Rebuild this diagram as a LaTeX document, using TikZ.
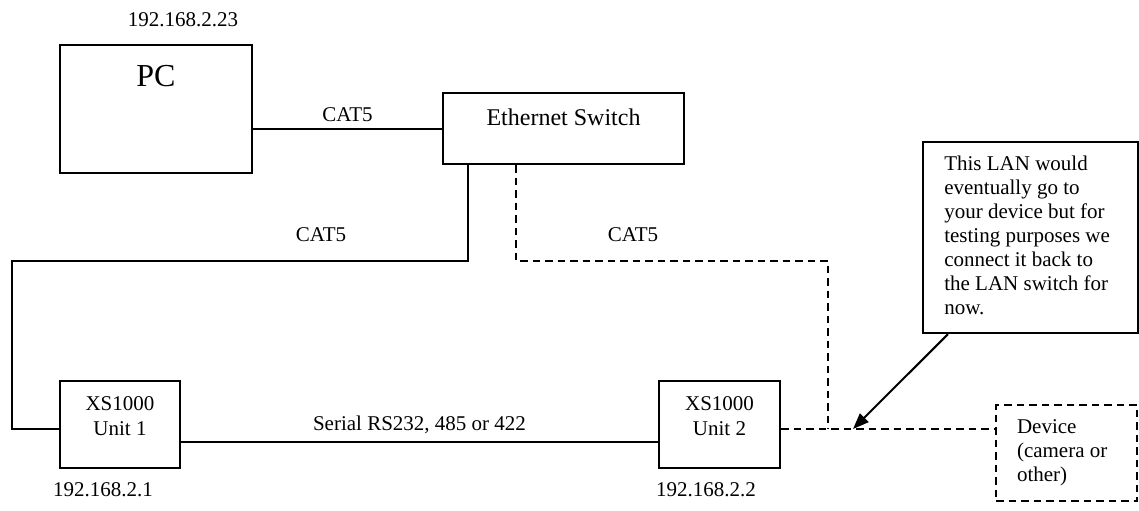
\documentclass[tikz,border=0pt]{standalone}
\usepackage{fontspec}
\setmainfont{Liberation Serif}
\usetikzlibrary{positioning,arrows.meta}

\begin{document}
\begin{tikzpicture}[x=0.5pt,y=-0.5pt,
    every node/.style={font=\fontsize{10.5}{12.5}\selectfont, inner sep=0pt},
    box/.style={draw, line width=1.1pt},
    dbox/.style={draw, line width=1pt, dash pattern=on 3.75pt off 2.5pt},
    wire/.style={line width=1pt},
    dwire/.style={line width=1pt, dash pattern=on 3.75pt off 2.5pt}]
  \useasboundingbox (0,0) rectangle (1139,510);
  % boxes
  \node[box, minimum width=96pt, minimum height=64pt] (pc) at (156,109) {};
  \node[font=\fontsize{16}{19}\selectfont, below=10.5pt of pc.north] (pctxt) {PC};
  \node (pcip) at (183,20) {192.168.2.23};
  \node[box, minimum width=120.5pt, minimum height=35.5pt] (sw) at (563.5,128.5) {};
  \node[font=\fontsize{12}{14}\selectfont, below=8.4pt of sw.north] (swtxt) {Ethernet Switch};
  \node[box, minimum width=60pt, minimum height=43.5pt] (u1) at (120,424.5) {};
  \node[align=center, below=8pt of u1.north] (u1txt) {XS1000\\Unit 1};
  \node (u1ip) at (103,490) {192.168.2.1};
  \node[box, minimum width=60.5pt, minimum height=43.5pt] (u2) at (719.5,424.5) {};
  \node[align=center, below=8pt of u2.north] (u2txt) {XS1000\\Unit 2};
  \node (u2ip) at (706,490) {192.168.2.2};
  \node[dbox, minimum width=70.5pt, minimum height=48pt, text width=49.5pt,
        inner xsep=10.5pt, align=flush left, font=\fontsize{10.5}{12}\selectfont] (dev)
        at (1066.5,453) {Device\\(camera or\\other)};
  \node[box, minimum width=107.5pt, minimum height=95.5pt] (note) at (1030.5,237.5) {};
  \node[align=flush left, font=\fontsize{10.5}{12}\selectfont,
        below right=7.5pt and 11pt of note.north west] (notetxt)
        {This LAN would\\eventually go to\\your device but for\\testing purposes we\\connect it back to\\the LAN switch for\\now.};
  % connectors
  \coordinate (bend) at (828,261);
  \coordinate (tee) at (828,429);
  \coordinate (tip) at (853,429);
  \draw[wire] (sw.west) -- (sw.west -| pc.east) node[midway, above=3pt] (cat1) {CAT5};
  \draw[wire] ([xshift=-47.75pt]sw.south) |- (12,261) |- ([yshift=-2.25pt]u1.west);
  \node (cat2) at (321,235) {CAT5};
  \draw[dwire] ([xshift=-23.75pt]sw.south) |- (bend) -- (tee);
  \node (cat3) at (633,235) {CAT5};
  \draw[wire, line width=0.8pt] ([yshift=-8.75pt]u1.east) -- ([yshift=-8.75pt]u2.west)
    node[midway, above=3.5pt] (serial) {Serial RS232, 485 or 422};
  \draw[dwire] (u2.east |- tee) -- (tee) -- (tee -| dev.west);
  \draw[wire, -{Triangle[length=8pt,width=6pt]}] ([xshift=-41.25pt]note.south) -- (tip);
\end{tikzpicture}
\end{document}
